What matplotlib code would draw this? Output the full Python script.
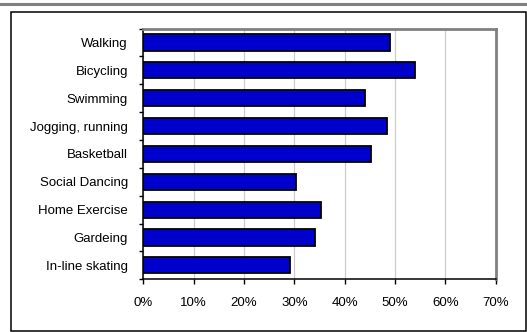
import matplotlib
matplotlib.use("Agg")
import matplotlib.pyplot as plt
import numpy as np
from matplotlib.patches import Rectangle
from matplotlib.lines import Line2D
from matplotlib.ticker import FixedLocator, PercentFormatter

# activities and share of participants (%)
activities = ["Walking", "Bicycling", "Swimming", "Jogging, running", "Basketball",
              "Social Dancing", "Home Exercise", "Gardeing", "In-line skating"]
shares = [49.1, 54.0, 44.1, 48.4, 45.3, 30.3, 35.3, 34.1, 29.2]
xticks = [0, 10, 20, 30, 40, 50, 60, 70]

plt.rcParams['font.family'] = ['Liberation Sans', 'DejaVu Sans']

fig = plt.figure(figsize=(5.27, 3.32), dpi=100)
W, H = 527.0, 332.0

# gray rule at the very top and the outer chart frame
fig.add_artist(Line2D([0, 1], [1 - 4 / H, 1 - 4 / H], color="#808080", lw=2.2,
                      transform=fig.transFigure))
fig.add_artist(Rectangle((11 / W, 1.5 / H), (525.5 - 11) / W, (320.3 - 1.5) / H,
                         transform=fig.transFigure, fill=False, ec="black", lw=1.1))

ax = fig.add_axes([143.3 / W, 1 - 279.3 / H, (495.7 - 143.3) / W, (279.3 - 28.5) / H])

y = np.arange(len(activities))
ax.barh(y, shares, height=0.58, color="#0000CC", edgecolor="black", linewidth=1.3, zorder=3)

ax.set_xlim(0, 70)
ax.set_ylim(len(activities) - 0.5, -0.5)
ax.set_xticks(xticks)
ax.xaxis.set_major_formatter(PercentFormatter(decimals=0))
ax.set_yticks(y)
ax.set_yticklabels(activities)
ax.yaxis.set_minor_locator(FixedLocator(np.arange(-0.5, len(activities), 1.0)))

ax.tick_params(axis="y", which="major", length=0, pad=11, labelsize=9.5)
ax.tick_params(axis="y", which="minor", length=3, width=1, color="black")
ax.tick_params(axis="x", length=3.5, width=1, pad=9, labelsize=9.5)

ax.grid(axis="x", color="#cccccc", lw=0.9, zorder=0)
for side in ["left", "bottom"]:
    ax.spines[side].set_color("black")
    ax.spines[side].set_linewidth(1.1)
for side in ["top", "right"]:
    ax.spines[side].set_color("#808080")
    ax.spines[side].set_linewidth(2)

fig.savefig("out.png", dpi=100)
